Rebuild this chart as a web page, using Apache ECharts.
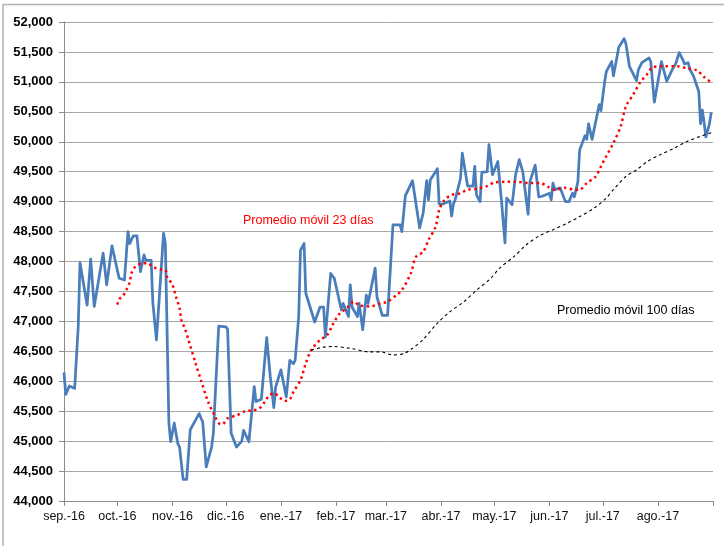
<!DOCTYPE html>
<html>
<head>
<meta charset="utf-8">
<title>Promedio móvil</title>
<script src="https://cdn.jsdelivr.net/npm/echarts@6/dist/echarts.min.js"></script>
<style>
  html, body { margin: 0; padding: 0; background: #fff; }
  #chart { width: 724px; height: 546px; }
</style>
</head>
<body>
<div id="chart"></div>
<script>
// eje x: inicio de cada mes y su etiqueta
var monthStarts = ['2016-09-01', '2016-10-01', '2016-11-01', '2016-12-01', '2017-01-01', '2017-02-01',
    '2017-03-01', '2017-04-01', '2017-05-01', '2017-06-01', '2017-07-01', '2017-08-01', '2017-09-01'];
var monthLabels = ['sep.-16', 'oct.-16', 'nov.-16', 'dic.-16', 'ene.-17', 'feb.-17',
    'mar.-17', 'abr.-17', 'may.-17', 'jun.-17', 'jul.-17', 'ago.-17', ''];

// serie diaria (precio)
var priceDates = [
    '2016-09-01', '2016-09-02', '2016-09-04', '2016-09-07', '2016-09-09', '2016-09-10', '2016-09-14', '2016-09-16',
    '2016-09-18', '2016-09-23', '2016-09-25', '2016-09-28', '2016-10-02', '2016-10-05', '2016-10-07', '2016-10-08',
    '2016-10-10', '2016-10-12', '2016-10-14', '2016-10-16', '2016-10-17', '2016-10-20', '2016-10-21', '2016-10-23',
    '2016-10-24', '2016-10-27', '2016-10-28', '2016-10-30', '2016-10-31', '2016-11-02', '2016-11-04', '2016-11-05',
    '2016-11-07', '2016-11-09', '2016-11-11', '2016-11-14', '2016-11-16', '2016-11-18', '2016-11-20', '2016-11-23',
    '2016-11-24', '2016-11-27', '2016-12-01', '2016-12-02', '2016-12-04', '2016-12-07', '2016-12-10', '2016-12-11',
    '2016-12-14', '2016-12-17', '2016-12-18', '2016-12-21', '2016-12-24', '2016-12-26', '2016-12-28', '2016-12-29',
    '2017-01-01', '2017-01-04', '2017-01-06', '2017-01-08', '2017-01-09', '2017-01-11', '2017-01-12', '2017-01-14',
    '2017-01-15', '2017-01-20', '2017-01-23', '2017-01-25', '2017-01-26', '2017-01-29', '2017-01-31', '2017-02-04',
    '2017-02-05', '2017-02-08', '2017-02-09', '2017-02-10', '2017-02-13', '2017-02-14', '2017-02-16', '2017-02-18',
    '2017-02-19', '2017-02-23', '2017-02-24', '2017-02-27', '2017-03-02', '2017-03-05', '2017-03-09', '2017-03-10',
    '2017-03-12', '2017-03-16', '2017-03-20', '2017-03-22', '2017-03-24', '2017-03-25', '2017-03-26', '2017-03-30',
    '2017-03-31', '2017-04-02', '2017-04-06', '2017-04-07', '2017-04-08', '2017-04-09', '2017-04-12', '2017-04-13',
    '2017-04-16', '2017-04-19', '2017-04-20', '2017-04-21', '2017-04-23', '2017-04-24', '2017-04-27', '2017-04-28',
    '2017-04-30', '2017-05-03', '2017-05-05', '2017-05-07', '2017-05-08', '2017-05-11', '2017-05-13', '2017-05-15',
    '2017-05-17', '2017-05-20', '2017-05-21', '2017-05-24', '2017-05-26', '2017-05-28', '2017-06-01', '2017-06-02',
    '2017-06-03', '2017-06-04', '2017-06-07', '2017-06-10', '2017-06-12', '2017-06-14', '2017-06-15', '2017-06-17',
    '2017-06-18', '2017-06-21', '2017-06-22', '2017-06-23', '2017-06-25', '2017-06-29', '2017-06-30', '2017-07-02',
    '2017-07-03', '2017-07-06', '2017-07-07', '2017-07-08', '2017-07-10', '2017-07-13', '2017-07-14', '2017-07-16',
    '2017-07-20', '2017-07-21', '2017-07-23', '2017-07-27', '2017-07-28', '2017-07-30', '2017-08-03', '2017-08-06',
    '2017-08-09', '2017-08-11', '2017-08-13', '2017-08-15', '2017-08-16', '2017-08-18', '2017-08-19', '2017-08-21',
    '2017-08-24', '2017-08-25', '2017-08-26', '2017-08-27', '2017-08-28', '2017-08-30', '2017-08-31'];
var priceValues = [
    46150, 45780, 45920, 45880, 46910, 47980, 47270, 48040,
    47250, 48140, 47610, 48260, 47720, 47690, 48500, 48300,
    48430, 48430, 47830, 48110, 48020, 48020, 47300, 46690,
    46720, 48470, 48300, 45300, 44990, 45300, 44960, 44900,
    44360, 44360, 45190, 45350, 45460, 45320, 44570, 44900,
    45130, 46920, 46910, 46870, 45130, 44900, 45000, 45180,
    44990, 45910, 45660, 45700, 46730, 46080, 45560, 45900,
    46190, 45740, 46350, 46290, 46350, 47080, 48190, 48300,
    47470, 46990, 47240, 47240, 46740, 47800, 47720, 47190,
    47300, 47080, 47610, 47240, 47080, 47300, 46860, 47440,
    47300, 47890, 47410, 47100, 47100, 48610, 48610, 48500,
    49100, 49350, 48560, 48810, 49350, 49030, 49360, 49550,
    48960, 48960, 49010, 48760, 48960, 49030, 49390, 49810,
    49260, 49260, 49590, 49110, 49000, 49490, 49500, 49950,
    49450, 49670, 49030, 48310, 49060, 48950, 49450, 49700,
    49500, 48790, 49330, 49610, 49080, 49090, 49140, 49030,
    49310, 49200, 49230, 49000, 49000, 49140, 49080, 49330,
    49860, 50100, 50040, 50300, 50040, 50620, 50520, 50990,
    51170, 51340, 51100, 51120, 51580, 51720, 51640, 51260,
    51020, 51200, 51320, 51400, 51340, 50660, 51340, 51010,
    51200, 51300, 51490, 51370, 51300, 51320, 51210, 51100,
    50840, 50300, 50530, 50320, 50080, 50300, 50490];

// promedio móvil 23 días
var ma23Dates = [
    '2016-10-01', '2016-10-02', '2016-10-04', '2016-10-06', '2016-10-08', '2016-10-09', '2016-10-11', '2016-10-15',
    '2016-10-18', '2016-10-21', '2016-10-25', '2016-10-28', '2016-10-29', '2016-11-01', '2016-11-03', '2016-11-05',
    '2016-11-06', '2016-11-08', '2016-11-10', '2016-11-14', '2016-11-17', '2016-11-21', '2016-11-25', '2016-11-27',
    '2016-11-29', '2016-12-02', '2016-12-07', '2016-12-12', '2016-12-16', '2016-12-20', '2016-12-23', '2016-12-25',
    '2016-12-28', '2016-12-31', '2017-01-03', '2017-01-06', '2017-01-08', '2017-01-12', '2017-01-15', '2017-01-18',
    '2017-01-23', '2017-01-27', '2017-01-30', '2017-02-03', '2017-02-07', '2017-02-11', '2017-02-14', '2017-02-20',
    '2017-02-26', '2017-03-02', '2017-03-07', '2017-03-10', '2017-03-15', '2017-03-18', '2017-03-22', '2017-03-25',
    '2017-03-29', '2017-03-31', '2017-04-03', '2017-04-07', '2017-04-12', '2017-04-16', '2017-04-22', '2017-04-27',
    '2017-05-01', '2017-05-07', '2017-05-14', '2017-05-21', '2017-05-27', '2017-05-31', '2017-06-04', '2017-06-10',
    '2017-06-15', '2017-06-18', '2017-06-22', '2017-06-27', '2017-06-30', '2017-07-03', '2017-07-07', '2017-07-11',
    '2017-07-14', '2017-07-18', '2017-07-22', '2017-07-26', '2017-07-29', '2017-08-04', '2017-08-12', '2017-08-17',
    '2017-08-23', '2017-08-27', '2017-08-31'];
var ma23Values = [
    47280, 47370, 47420, 47520, 47660, 47810, 47910, 47970,
    47970, 47910, 47870, 47860, 47740, 47610, 47410, 47220,
    47020, 46880, 46690, 46300, 46020, 45660, 45410, 45300,
    45280, 45380, 45430, 45500, 45510, 45550, 45660, 45750,
    45800, 45740, 45670, 45700, 45820, 46020, 46300, 46520,
    46690, 46770, 46940, 47130, 47220, 47330, 47270, 47250,
    47300, 47330, 47440, 47520, 47800, 48080, 48160, 48360,
    48580, 48860, 49030, 49110, 49140, 49200, 49220, 49260,
    49320, 49330, 49330, 49310, 49310, 49250, 49200, 49230,
    49200, 49200, 49310, 49420, 49590, 49760, 49980, 50250,
    50590, 50780, 50990, 51130, 51240, 51260, 51260, 51230,
    51190, 51080, 50990];

// promedio móvil 100 días
var ma100Dates = [
    '2017-01-18', '2017-01-25', '2017-01-30', '2017-02-09', '2017-02-20', '2017-02-26', '2017-03-05', '2017-03-11',
    '2017-03-16', '2017-03-22', '2017-03-30', '2017-04-06', '2017-04-14', '2017-04-21', '2017-04-29', '2017-05-04',
    '2017-05-12', '2017-05-19', '2017-05-27', '2017-06-03', '2017-06-11', '2017-06-18', '2017-06-26', '2017-07-03',
    '2017-07-07', '2017-07-14', '2017-07-20', '2017-07-26', '2017-08-02', '2017-08-10', '2017-08-17', '2017-08-25',
    '2017-08-31'];
var ma100Values = [
    46520, 46570, 46580, 46550, 46490, 46490, 46440, 46460,
    46550, 46700, 46970, 47160, 47330, 47520, 47720, 47890,
    48080, 48280, 48440, 48530, 48640, 48750, 48890, 49060,
    49200, 49420, 49530, 49670, 49780, 49890, 50000, 50090,
    50150];

function toTime(s) {
    return new Date(s + 'T00:00:00Z').getTime();
}

function pairs(dates, values) {
    var out = [];
    for (var i = 0; i < dates.length; i++) {
        out.push([toTime(dates[i]), values[i]]);
    }
    return out;
}

var monthTimes = monthStarts.map(toTime);
var labelTimes = monthTimes.slice(0, monthTimes.length - 1);

var chart = echarts.init(document.getElementById('chart'), null, { renderer: 'canvas' });

var option = {
    animation: false,
    backgroundColor: '#ffffff',
    grid: {
        left: 64,
        top: 22,
        width: 649,
        height: 479,
        containLabel: false
    },
    xAxis: {
        type: 'value',
        min: monthTimes[0],
        max: monthTimes[monthTimes.length - 1],
        axisLine: { show: true, lineStyle: { color: '#8c8c8c', width: 1 } },
        axisTick: {
            show: true,
            length: 5,
            customValues: monthTimes,
            lineStyle: { color: '#8c8c8c' }
        },
        axisLabel: {
            customValues: labelTimes,
            margin: 9,
            color: '#111',
            fontFamily: 'Liberation Sans, Arial, sans-serif',
            fontSize: 12.5,
            formatter: function(v) {
                var i = monthTimes.indexOf(v);
                return i >= 0 ? monthLabels[i] : '';
            }
        },
        splitLine: { show: false }
    },
    yAxis: {
        type: 'value',
        min: 44000,
        max: 52000,
        interval: 500,
        axisLine: { show: true, lineStyle: { color: '#8c8c8c', width: 1 } },
        axisTick: { show: true, length: 5, lineStyle: { color: '#8c8c8c' } },
        axisLabel: {
            margin: 11,
            color: '#000',
            fontWeight: 'bold',
            fontFamily: 'Liberation Sans, Arial, sans-serif',
            fontSize: 13,
            formatter: function(v) {
                return v.toLocaleString('en-US');
            }
        },
        splitLine: { show: true, lineStyle: { color: '#a6a6a6', width: 1 } }
    },
    series: [
        {
            name: 'Precio',
            type: 'line',
            data: pairs(priceDates, priceValues),
            showSymbol: false,
            lineStyle: { color: '#4a7ebb', width: 2.75, join: 'round' },
            z: 3
        },
        {
            name: 'Promedio móvil 23 días',
            type: 'line',
            data: pairs(ma23Dates, ma23Values),
            showSymbol: false,
            smooth: 0.3,
            // puntos separados, como el punteado de Excel
            lineStyle: { color: '#ff0000', width: 2.5, type: [2.4, 3.4] },
            z: 4
        },
        {
            name: 'Promedio móvil 100 días',
            type: 'line',
            data: pairs(ma100Dates, ma100Values),
            showSymbol: false,
            smooth: 0.3,
            lineStyle: { color: '#000000', width: 1.1, type: [3, 3] },
            z: 4
        }
    ],
    graphic: [
        {
            type: 'rect',
            silent: true,
            shape: { x: 3, y: 4.5, width: 740, height: 560 },
            style: { fill: 'none', stroke: '#b4b4b4', lineWidth: 1.5 }
        },
        {
            type: 'text',
            left: 243,
            top: 214,
            style: {
                text: 'Promedio móvil 23 días',
                fill: '#ff0000',
                font: '12.5px "Liberation Sans", Arial, sans-serif'
            }
        },
        {
            type: 'text',
            left: 557,
            top: 304,
            style: {
                text: 'Promedio móvil 100 días',
                fill: '#000000',
                font: '12.5px "Liberation Sans", Arial, sans-serif'
            }
        }
    ]
};

chart.setOption(option);
</script>
</body>
</html>
